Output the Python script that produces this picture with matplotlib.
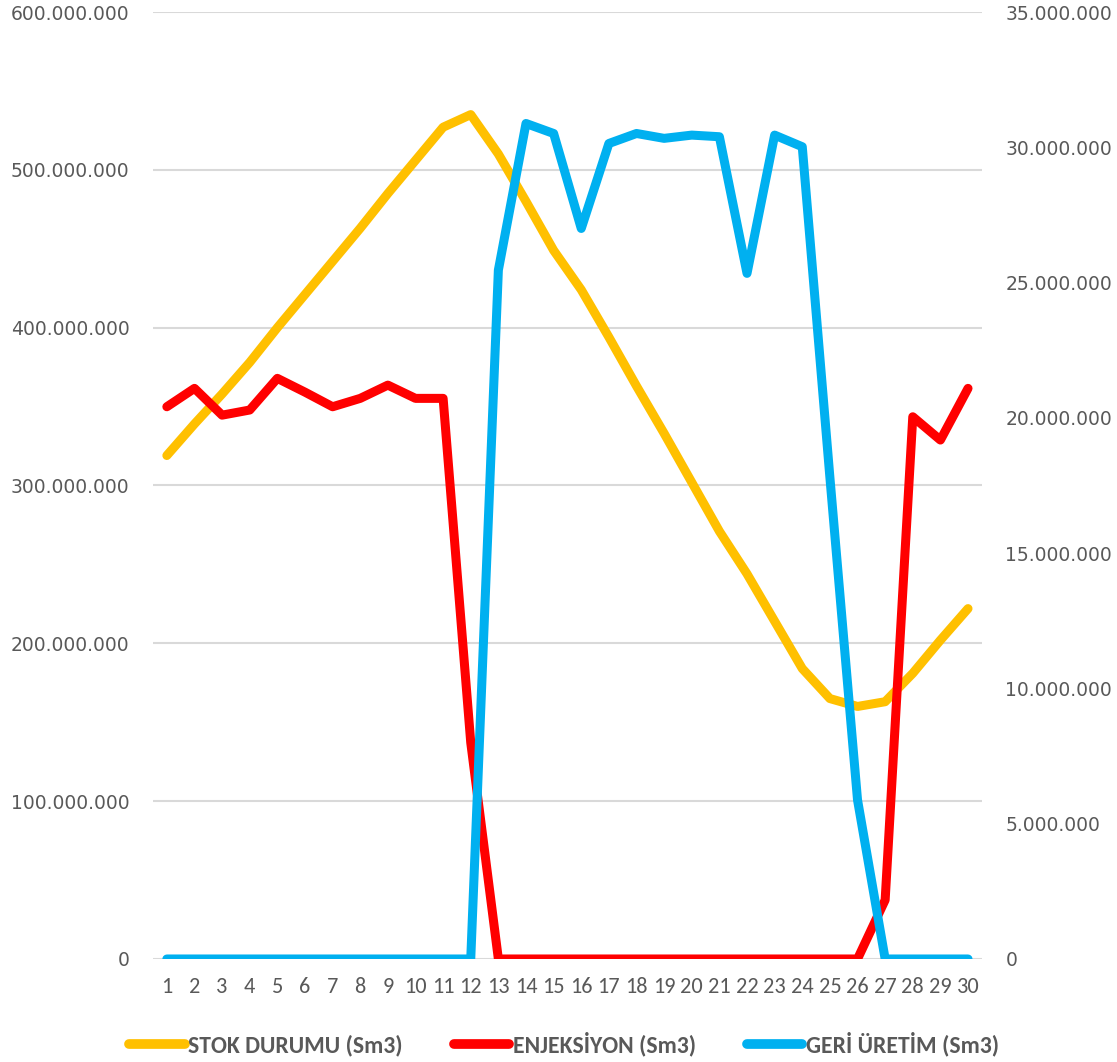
import matplotlib
matplotlib.use('Agg')
import matplotlib.pyplot as plt
from matplotlib.ticker import FuncFormatter, MultipleLocator

# Data
days = list(range(1, 31))
stok = [319, 339, 358, 378, 400, 421, 442, 463, 485, 506, 527, 535, 510, 480, 449,
        424, 394, 363, 333, 302, 271, 244, 214, 184, 165, 160, 163, 181, 202, 222]  # million Sm3
enjeksiyon = [20.41, 21.09, 20.10, 20.29, 21.46, 20.95, 20.41, 20.72, 21.21, 20.72,
              20.72, 8.0, 0, 0, 0, 0, 0, 0, 0, 0,
              0, 0, 0, 0, 0, 0, 2.18, 20.04, 19.18, 21.09]  # million Sm3
geri_uretim = [0, 0, 0, 0, 0, 0, 0, 0, 0, 0,
               0, 0, 25.46, 30.88, 30.51, 27.0, 30.14, 30.51, 30.33, 30.45,
               30.39, 25.34, 30.45, 30.02, 17.8, 5.88, 0, 0, 0, 0]  # million Sm3
labels = ['STOK DURUMU (Sm3)', 'ENJEKSİYON (Sm3)', 'GERİ ÜRETİM (Sm3)']

yellow = '#FFC000'
red = '#FF0000'
blue = '#00B0F0'
text_col = '#595959'
calibri = ['Carlito', 'DejaVu Sans']

def dotted(v, pos):
    return f"{int(round(v)):,}".replace(',', '.')

fig = plt.figure(figsize=(11.17, 10.62), dpi=100)
ax = fig.add_axes([0.137, 0.097, 0.742, 0.8917])
ax2 = ax.twinx()

lw = 6.5
l1, = ax.plot(days, [v * 1e6 for v in stok], color=yellow, lw=lw,
              solid_capstyle='round', solid_joinstyle='round', zorder=3)
l2, = ax2.plot(days, [v * 1e6 for v in enjeksiyon], color=red, lw=lw,
               solid_capstyle='round', solid_joinstyle='round', zorder=3)
l3, = ax2.plot(days, [v * 1e6 for v in geri_uretim], color=blue, lw=lw,
               solid_capstyle='round', solid_joinstyle='round', zorder=4)

ax.set_xlim(0.5, 30.5)
ax.set_ylim(0, 600e6)
ax2.set_ylim(0, 35e6)
ax.yaxis.set_major_locator(MultipleLocator(100e6))
ax2.yaxis.set_major_locator(MultipleLocator(5e6))
ax.yaxis.set_major_formatter(FuncFormatter(dotted))
ax2.yaxis.set_major_formatter(FuncFormatter(dotted))

ax.grid(axis='y', color='#D9D9D9', lw=1.5)
ax.set_axisbelow(True)
for a in (ax, ax2):
    for s in a.spines.values():
        s.set_visible(False)
    a.tick_params(length=0, labelsize=13.5, labelcolor=text_col)
ax.tick_params(axis='y', pad=17)
ax2.tick_params(axis='y', pad=17)
ax.tick_params(axis='x', pad=13)
ax.set_xticks(days)
ax.set_xticklabels([str(d) for d in days], family=calibri, fontsize=16, color=text_col)

leg = fig.legend([l1, l2, l3], labels, loc='center', bbox_to_anchor=(0.505, 0.017),
                 ncol=3, frameon=False, handlelength=2.35, handletextpad=0.15,
                 columnspacing=2.15, prop={'family': calibri, 'weight': 'bold', 'size': 17})
for t in leg.get_texts():
    t.set_color(text_col)
for h in leg.legend_handles:
    h.set_linewidth(7)
    h.set_solid_capstyle('round')

fig.savefig('out.png', dpi=100)
